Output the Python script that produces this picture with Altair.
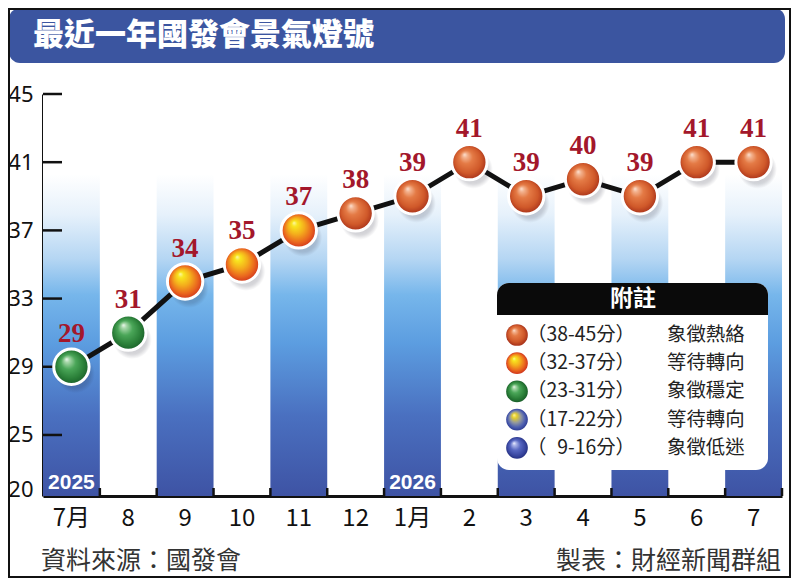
import json
import altair as alt
import pandas as pd

# ---------------- data ----------------
months = ["7月", "8", "9", "10", "11", "12", "1月", "2", "3", "4", "5", "6", "7"]
values = [29, 31, 34, 35, 37, 38, 39, 41, 39, 40, 39, 41, 41]
year_idx = [0, 6]
year_text = ["2025", "2026"]
y_ticks = [45, 41, 37, 33, 29, 25]
y_break_tick = 21.8      # drawn as "20" (broken axis)
y_floor = 21.42
y_top = 45
legend_ranges = ["（38-45分）", "（32-37分）", "（23-31分）", "（17-22分）", "（\u20079-16分）"]
legend_desc = ["象徵熱絡", "等待轉向", "象徵穩定", "等待轉向", "象徵低迷"]
legend_title = "附註"
title_text = "最近一年國發會景氣燈號"
source_text = "資料來源：國發會"
credit_text = "製表：財經新聞群組"

CJK = "Noto Sans CJK TC"


def level(v):
    if v >= 38:
        return "red"
    if v >= 32:
        return "orange"
    return "green"


df = pd.DataFrame({"idx": list(range(len(months))), "value": values})
df["level"] = df["value"].apply(level)
cols = pd.DataFrame({"idx": [i for i in range(len(months)) if i % 2 == 0]})
cols["top"] = y_top
cols["bot"] = y_floor
years = pd.DataFrame({"idx": year_idx, "year": year_text})
years["bot"] = y_floor
edges = pd.DataFrame({"idx": list(range(len(months)))})
edges["bot"] = y_floor
yt = pd.DataFrame({"t": y_ticks})
one = pd.DataFrame({"a": [0]})


def sphere(stops):
    return {
        "gradient": "radial",
        "x1": 0.36, "y1": 0.28, "r1": 0.0,
        "x2": 0.5, "y2": 0.5, "r2": 0.52,
        "stops": [{"offset": o, "color": c} for o, c in stops],
    }


GRAD = {
    "red": sphere([(0, "#fde4d6"), (0.13, "#f3b28e"), (0.36, "#e47a45"),
                   (0.72, "#d0592a"), (1, "#a32d18")]),
    "orange": sphere([(0, "#fdf8b0"), (0.15, "#f8e61e"), (0.45, "#f4ae1c"),
                      (0.76, "#ea661e"), (1, "#cc2e1c")]),
    "green": sphere([(0, "#f2f9f2"), (0.13, "#a9d8ab"), (0.4, "#4aa658"),
                     (0.75, "#2a7f38"), (1, "#185c28")]),
    "yblue": sphere([(0, "#fff6a8"), (0.2, "#e6cf2a"), (0.5, "#9298a0"),
                     (0.78, "#4c5eb0"), (1, "#2c3a90")]),
    "blue": sphere([(0, "#f0f2ff"), (0.16, "#aab3e8"), (0.45, "#5868c2"),
                    (0.78, "#3a48a2"), (1, "#242f80")]),
}
legend_grads = ["red", "orange", "green", "yblue", "blue"]

shadow = {
    "gradient": "radial",
    "x1": 0.5, "y1": 0.5, "r1": 0.0, "x2": 0.5, "y2": 0.5, "r2": 0.5,
    "stops": [
        {"offset": 0.0, "color": "rgba(30,30,50,0.30)"},
        {"offset": 0.75, "color": "rgba(30,30,50,0.18)"},
        {"offset": 1.0, "color": "rgba(30,30,50,0)"},
    ],
}

col_grad = {
    "gradient": "linear", "x1": 0, "y1": 0, "x2": 0, "y2": 1,
    "stops": [
        {"offset": 0.0, "color": "#ffffff"},
        {"offset": 0.2, "color": "#ffffff"},
        {"offset": 0.3, "color": "#e6f1fb"},
        {"offset": 0.41, "color": "#b5d6f3"},
        {"offset": 0.5, "color": "#76b6eb"},
        {"offset": 0.62, "color": "#5c9de0"},
        {"offset": 0.8, "color": "#4a70c0"},
        {"offset": 1.0, "color": "#3e53a4"},
    ],
}

xscale = alt.Scale(paddingInner=0, paddingOuter=0)
yscale = alt.Scale(domain=[y_floor, y_top], nice=False, zero=False)
label_expr = json.dumps(months, ensure_ascii=False) + "[datum.value]"

xaxis = alt.Axis(labelExpr=label_expr, labelAngle=0, labelFont=CJK,
                 labelFontSize=24, labelColor="#111", labelPadding=10,
                 ticks=False, domainColor="#111", domainWidth=3, grid=False)
yaxis = alt.Axis(values=y_ticks + [y_break_tick],
                 labelExpr="datum.value < 22 ? '20' : datum.label",
                 labelFont="Noto Sans", labelFontSize=22, labelColor="#111",
                 labelPadding=10, ticks=False, domainColor="#111",
                 domainWidth=3, grid=False)


def X():
    return alt.X("idx:O", scale=xscale, title=None, axis=xaxis)


def Y(field):
    return alt.Y(field, type="quantitative", scale=yscale, title=None, axis=yaxis)


columns = alt.Chart(cols).mark_bar(fill=col_grad, strokeWidth=0).encode(
    x=X(), y=Y("top"), y2="bot:Q",
)
years_txt = alt.Chart(years).mark_text(
    font="Liberation Sans", fontWeight="bold", fontSize=21, color="white",
    baseline="bottom", dy=-3,
).encode(x=X(), y=Y("bot"), text="year:N")

xt = alt.Chart(edges).mark_rule(color="#111", strokeWidth=2.5, xOffset=28.42).encode(
    x=X(), y=Y("bot"), y2=alt.value(394),
)
ytk = alt.Chart(yt).mark_rule(color="#111", strokeWidth=2.5).encode(
    y=Y("t"), x=alt.value(0), x2=alt.value(19)
)

line = alt.Chart(df).mark_line(color="#111", strokeWidth=5).encode(x=X(), y=Y("value"))
shadows = alt.Chart(df).mark_circle(size=1500, fill=shadow, opacity=1,
                                    xOffset=4, yOffset=7).encode(x=X(), y=Y("value"))
balls = [
    alt.Chart(df).transform_filter(alt.datum.level == lv).mark_circle(
        size=1250, fill=GRAD[lv], fillOpacity=1, opacity=1,
        stroke="white", strokeWidth=3,
    ).encode(x=X(), y=Y("value"))
    for lv in ["green", "orange", "red"]
]
labels = alt.Chart(df).mark_text(
    font="Liberation Serif", fontWeight="bold", fontSize=27, color="#a3172b",
    baseline="alphabetic", dy=-25,
).encode(x=X(), y=Y("value"), text="value:Q")

# ---------------- decorations ----------------
frame = alt.Chart(one).mark_rect(fill="transparent", stroke="#111", strokeWidth=2).encode(
    x=alt.value(-34), x2=alt.value(747), y=alt.value(-85), y2=alt.value(483))
title_bar = alt.Chart(one).mark_rect(color="#3b55a0", cornerRadius=11).encode(
    x=alt.value(-34), x2=alt.value(742), y=alt.value(-86), y2=alt.value(-31))
title = alt.Chart(one).mark_text(
    text=title_text, font=CJK, fontSize=31, fontWeight=900, color="white",
    align="left", baseline="middle").encode(x=alt.value(-10), y=alt.value(-58))

src = alt.Chart(one).mark_text(
    text=source_text, font=CJK, fontSize=25, color="#333", align="left",
    baseline="middle").encode(x=alt.value(-2), y=alt.value(467))
credit = alt.Chart(one).mark_text(
    text=credit_text, font=CJK, fontSize=25, color="#333", align="right",
    baseline="middle").encode(x=alt.value(738), y=alt.value(467))

lg = [
    alt.Chart(one).mark_rect(color="white", cornerRadius=12).encode(
        x=alt.value(454), x2=alt.value(725), y=alt.value(189), y2=alt.value(376)),
    alt.Chart(one).mark_rect(color="#0a0a0a", cornerRadiusTopLeft=12,
                             cornerRadiusTopRight=12).encode(
        x=alt.value(454), x2=alt.value(725), y=alt.value(189), y2=alt.value(221)),
    alt.Chart(one).mark_text(text=legend_title, font=CJK, fontSize=23,
                             fontWeight="bold", color="white",
                             baseline="middle").encode(
        x=alt.value(590), y=alt.value(205)),
]
for i, (rng, desc, g) in enumerate(zip(legend_ranges, legend_desc, legend_grads)):
    ry = 241 + i * 28.2
    lg.append(alt.Chart(one).mark_circle(size=470, fill=GRAD[g], fillOpacity=1,
                                         opacity=1).encode(
        x=alt.value(474), y=alt.value(ry)))
    lg.append(alt.Chart(one).mark_text(text=rng, font=CJK, fontSize=19.4,
                                       color="#222", align="left",
                                       baseline="middle").encode(
        x=alt.value(484), y=alt.value(ry)))
    lg.append(alt.Chart(one).mark_text(text=desc, font=CJK, fontSize=19.4,
                                       color="#222", align="left",
                                       baseline="middle").encode(
        x=alt.value(624), y=alt.value(ry)))

chart = alt.layer(
    columns, years_txt, xt, ytk, line, shadows, *balls, labels,
    *lg, title_bar, title, src, credit, frame,
).properties(
    width=739, height=402,
    autosize=alt.AutoSizeParams(type="none"),
    padding={"left": 35, "top": 86, "right": 10, "bottom": 82},
    background="white",
).configure_view(stroke=None)

chart.save("out.html", embed_options={"renderer": "svg", "actions": False})
